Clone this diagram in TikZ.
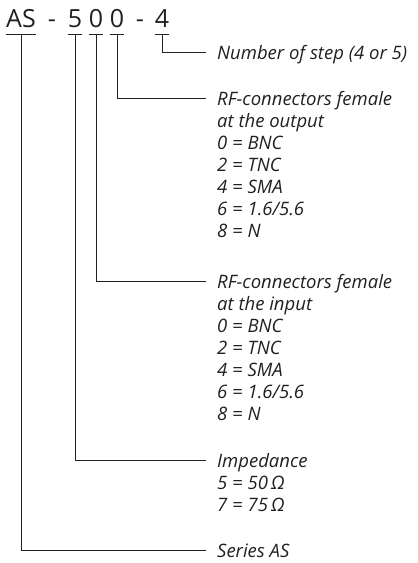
\documentclass[tikz,border=0pt]{standalone}
\usepackage{fontspec}
\setmainfont{Open Sans}
\usetikzlibrary{positioning}
\definecolor{ink}{HTML}{231f20}

\tikzset{
  code/.style={inner sep=0pt, anchor=base, ink, font=\fontsize{25}{25}\selectfont},
  note/.style={inner sep=0pt, anchor=base west, align=left, ink, font=\itshape\fontsize{18.5}{22}\selectfont},
  wire/.style={ink, line width=0.8pt}
}

\begin{document}
\begin{tikzpicture}[x=1pt, y=-1pt]
        \useasboundingbox (0,0) rectangle (418,563);
        % type code
        \node[code] (AS) at (21,27) {AS};
        \node[code] (D1) at (52,27) {-};
        \node[code] (Z) at (75,27) {5};
        \node[code] (IN) at (96,27) {0};
        \node[code] (OUT) at (117,27) {0};
        \node[code] (D2) at (140,27) {-};
        \node[code] (ST) at (162,27) {4};
        % explanations (anchored at the last line)
        \node[note] (STEP) at (217,59) {Number of step (4 or 5)};
        \node[note] (OUTT) at (217,237) {RF-connectors female\\at the output\\0 = BNC\\2 = TNC\\4 = SMA\\6 = 1.6/5.6\\8 = N};
        \node[note] (INT) at (217,420) {RF-connectors female\\at the input\\0 = BNC\\2 = TNC\\4 = SMA\\6 = 1.6/5.6\\8 = N};
        \node[note] (IMP) at (217,511) {Impedance\\5 = 50\,Ω\\7 = 75\,Ω};
        \node[note] (SER) at (217,557) {Series AS};
        % underlines and leaders to the first line
        \foreach \c/\t/\k in {ST/STEP/0, OUT/OUTT/6, IN/INT/6, Z/IMP/2, AS/SER/0} {
            \draw[wire] ([yshift=-7pt]\c.base west) -- ([yshift=-7pt]\c.base east);
            \draw[wire] ([yshift=-7pt]\c.base) |- ([xshift=-11pt, yshift=7pt+\k*22pt]\t.base west);
        }
    \end{tikzpicture}
\end{document}
